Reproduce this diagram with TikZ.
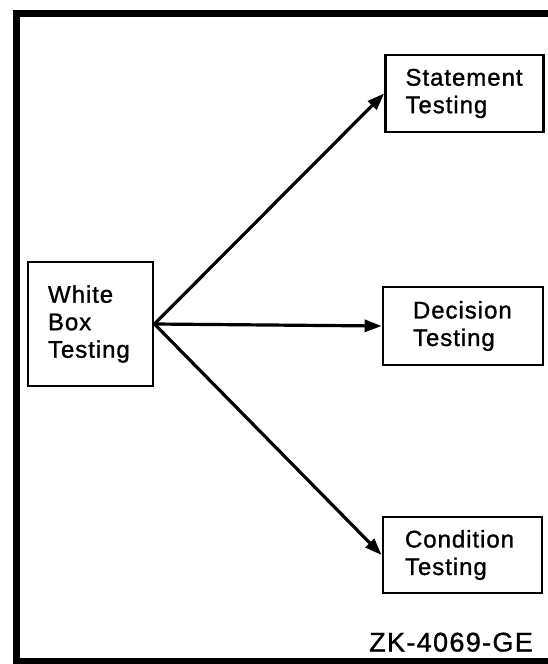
\documentclass[tikz,border=0pt]{standalone}
\usepackage{fontspec}
\setmainfont{Liberation Sans}[FakeBold=1.2]
\usetikzlibrary{arrows.meta}

\tikzset{
  box/.style={draw=black, line width=2.8pt, rectangle, align=left,
    font=\fontsize{24}{27.5}\selectfont\addfontfeature{LetterSpace=4},
    inner ysep=0pt},
  flow/.style={line width=3.2pt, draw=black,
    -{Triangle[length=17pt,width=12pt]}},
  frame/.style={line width=7pt, draw=black, line join=miter}
}

\begin{document}
\begin{tikzpicture}[x=1pt, y=-1pt]
  \useasboundingbox (0,0) rectangle (547,664);

  % outer frame, open to the right
  \draw[frame] (560,13.5) -- (16.5,13.5) -- (16.5,661) -- (560,661);

  % boxes
  \node[box, inner xsep=20pt, text width=85pt, minimum height=124pt]
    (wbt) at (90.5,324) {White\\Box\\Testing};
  \node[box, inner xsep=20pt, text width=118pt, minimum height=77pt]
    (st) at (464.5,93.5) {Statement\\Testing};
  \node[box, inner xsep=30pt, text width=100pt, minimum height=78pt]
    (dt) at (463,326) {Decision\\Testing};
  \node[box, inner xsep=22pt, text width=115pt, minimum height=76pt]
    (ct) at (462.5,555) {Condition\\Testing};

  % connectors
  \draw[flow] (wbt.east) -- (st.west);
  \draw[flow] (wbt.east) -- (dt.west);
  \draw[flow] (wbt.east) -- (ct.west);

  % drawing number
  \node[anchor=base west, inner sep=0pt,
    font=\fontsize{27}{30}\selectfont\addfontfeature{LetterSpace=5}]
    (tag) at (369,651.5) {ZK-4069-GE};
\end{tikzpicture}
\end{document}
